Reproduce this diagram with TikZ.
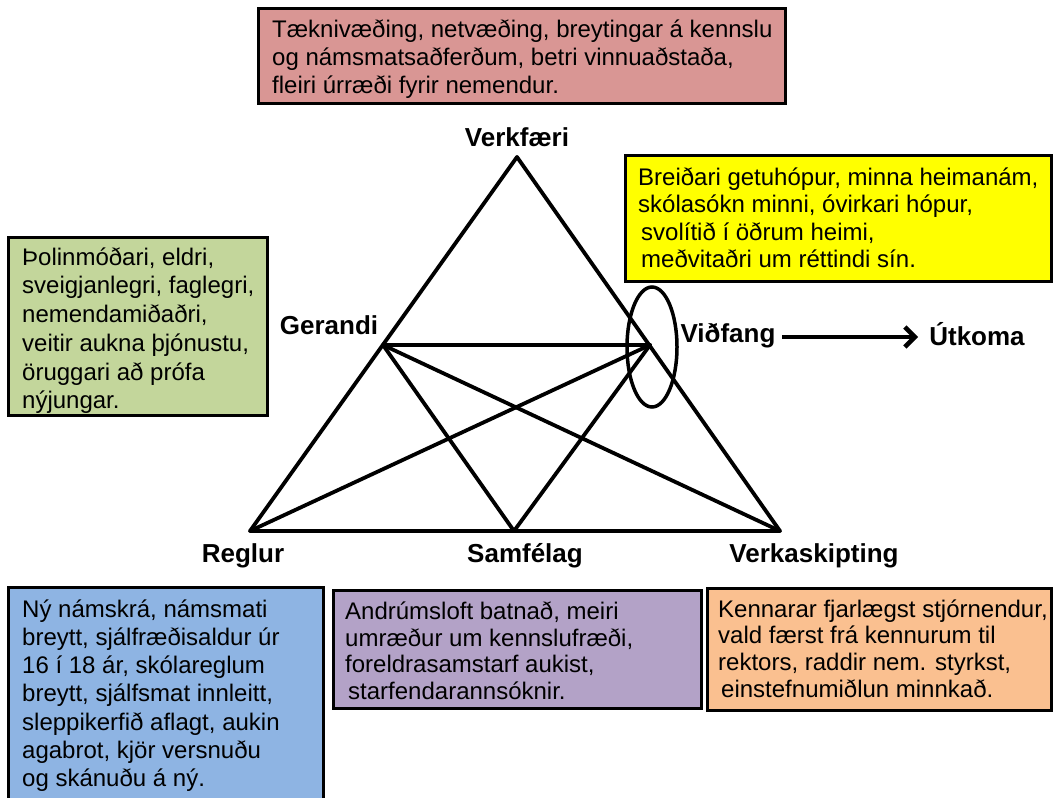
\documentclass[tikz,border=0pt]{standalone}
\usepackage{fontspec}
\setmainfont{Liberation Sans}
\usetikzlibrary{arrows.meta}
\definecolor{cpink}{HTML}{D99694}
\definecolor{cyellow}{HTML}{FFFF00}
\definecolor{cgreen}{HTML}{C3D69B}
\definecolor{cblue}{HTML}{8EB4E3}
\definecolor{cpurple}{HTML}{B3A2C7}
\definecolor{corange}{HTML}{FAC090}
\tikzset{
  box/.style={draw=black, line width=3pt, inner sep=0pt},
  txt/.style={anchor=north west, inner sep=0pt, align=left, font=\fontsize{24}{28}\selectfont},
  lbl/.style={anchor=base, inner sep=0pt, font=\fontsize{26}{30}\selectfont\bfseries},
  edge/.style={line width=3.8pt, line cap=round, line join=round},
}
\newcommand{\fst}{\rule{0pt}{20pt}}
\begin{document}
\begin{tikzpicture}[x=1pt,y=-1pt]
\useasboundingbox (0,0) rectangle (1053,798);
% boxes
\path[box, fill=cpink] (258,8) rectangle (785,103) node[pos=0] (b1) {};
\node[txt] (t1) at (272,17) {\fst Tæknivæðing, netvæðing, breytingar á kennslu\\og námsmatsaðferðum, betri vinnuaðstaða,\\fleiri úrræði fyrir nemendur.};
\path[box, fill=cyellow] (625,155) rectangle (1051,281) node[pos=0] (b2) {};
\node[txt, font=\fontsize{24}{27.5}\selectfont] (t2) at (638,165) {\fst Breiðari getuhópur, minna heimanám,\\skólasókn minni, óvirkari hópur,\\\hspace{3pt}svolítið í öðrum heimi,\\\hspace{3pt}meðvitaðri um réttindi sín.};
\path[box, fill=cgreen] (8,237) rectangle (267,415) node[pos=0] (b3) {};
\node[txt, font=\fontsize{24}{28.7}\selectfont] (t3) at (22,245) {\fst Þolinmóðari, eldri,\\sveigjanlegri, faglegri,\\nemendamiðaðri,\\veitir aukna þjónustu,\\öruggari að prófa\\nýjungar.};
\path[box, fill=cblue] (8,587) rectangle (323,802) node[pos=0] (b4) {};
\node[txt, font=\fontsize{24}{28.2}\selectfont] (t4) at (22,597) {\fst Ný námskrá, námsmati\\breytt, sjálfræðisaldur úr\\16 í 18 ár, skólareglum\\breytt, sjálfsmat innleitt,\\sleppikerfið aflagt, aukin\\agabrot, kjör versnuðu\\og skánuðu á ný.};
\path[box, fill=cpurple] (333,590) rectangle (701,708) node[pos=0] (b5) {};
\node[txt, font=\fontsize{24}{26.8}\selectfont] (t5) at (345,599) {\fst Andrúmsloft batnað, meiri\\umræður um kennslufræði,\\foreldrasamstarf aukist,\\\hspace{3pt}starfendarannsóknir.};
\path[box, fill=corange] (707,588) rectangle (1051,710) node[pos=0] (b6) {};
\node[txt, font=\fontsize{24}{26.7}\selectfont] (t6) at (718,597) {\fst Kennarar fjarlægst stjórnendur,\\vald færst frá kennurum til\\rektors, raddir nem. styrkst,\\\hspace{3pt}einstefnumiðlun minnkað.};
% triangle vertices
\coordinate (A) at (517,157);
\coordinate (G) at (383,345);
\coordinate (V) at (650,345);
\coordinate (R) at (250,531);
\coordinate (S) at (514,531);
\coordinate (K) at (780,531);
\draw[edge] (A) -- (R) -- (K) -- cycle;
\draw[edge] (G) -- (V);
\draw[edge] (G) -- (S);
\draw[edge] (G) -- (K);
\draw[edge] (V) -- (R);
\draw[edge] (V) -- (S);
\draw[line width=3.5pt] (652,347) ellipse [x radius=25, y radius=60];
% labels
\node[lbl] (lA) at (517,146) {Verkfæri};
\node[lbl] (lG) at (329,334) {Gerandi};
\node[lbl] (lV) at (728,342) {Viðfang};
\node[lbl] (lU) at (977,345) {Útkoma};
\node[lbl] (lR) at (243,562) {Reglur};
\node[lbl] (lS) at (525,562) {Samfélag};
\node[lbl] (lK) at (814,562) {Verkaskipting};
\coordinate (arrS) at (782,337);
\coordinate (arrE) at (918,337);
\draw[line width=4.5pt, -{Straight Barb[length=10pt, width=20pt]}] (arrS) -- (arrE);
\end{tikzpicture}
\end{document}
